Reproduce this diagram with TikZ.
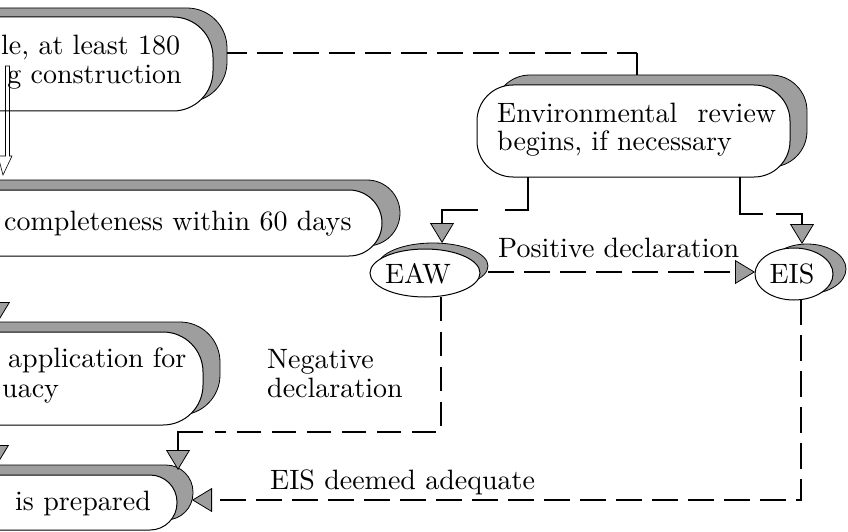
\documentclass[tikz,border=0pt]{standalone}
\usepackage{fontspec}
\setmainfont{lmroman10-regular.otf}
\usetikzlibrary{arrows.meta}
\definecolor{shade}{gray}{0.62}
\begin{document}
\begin{tikzpicture}[x=1pt,y=-1pt,
  font=\fontsize{28}{30}\selectfont,
  shadowbox/.style={fill=shade, draw=black, line width=0.8pt},
  frontbox/.style={fill=white, draw=black, line width=1pt},
  lbl/.style={inner sep=0pt, anchor=base west},
  conn/.style={line width=1.4pt},
  dashconn/.style={conn, dash pattern=on 26pt off 10pt},
  tip/.style={-{Triangle[width=24pt,length=20pt,fill=shade,line width=0.8pt]}},
]
\useasboundingbox (0,0) rectangle (848,532);
\clip (0,0) rectangle (848,532);

% ---------- boxes (left column, cut by the frame) ----------
\draw[shadowbox, rounded corners=40pt] (-80,8) rectangle (227,102);
\draw[frontbox, rounded corners=40pt] (-80,17) rectangle (213,111);
\node[lbl] (t1a) at (1,55) {le, at least 180};
\node[lbl, anchor=base east] (t1b) at (182,84) {g construction};

\draw[shadowbox, rounded corners=33pt] (-80,180) rectangle (400,246);
\draw[frontbox, rounded corners=33pt] (-80,190) rectangle (382,256);
\node[lbl] (t2) at (4,230) {completeness within 60 days};

\draw[shadowbox, rounded corners=40pt] (-80,322) rectangle (220,415);
\draw[frontbox, rounded corners=40pt] (-80,332) rectangle (203,425);
\node[lbl] (t3a) at (8,367) {application for};
\node[lbl] (t3b) at (2,397) {uacy};

\draw[shadowbox, rounded corners=27pt] (-80,465) rectangle (193,520);
\draw[frontbox, rounded corners=27pt] (-80,475) rectangle (177,530);
\node[lbl] (t4) at (15,510) {is prepared};

% ---------- environmental review ----------
\draw[shadowbox, rounded corners=36pt] (494,75) rectangle (807,167);
\draw[frontbox, rounded corners=36pt] (477,85) rectangle (790,177);
\node[lbl] (envA) at (497,122) {Environmental\hspace{0.72em}review};
\node[lbl] (envB) at (497,150) {begins, if necessary};

% ---------- EAW / EIS ----------
\draw[shadowbox] (433,266) ellipse [x radius=55pt, y radius=23pt];
\draw[frontbox] (425,273) ellipse [x radius=55pt, y radius=24pt];
\node[inner sep=0pt, anchor=base] (eaw) at (418,283) {EAW};

\draw[shadowbox] (807,269) ellipse [x radius=39pt, y radius=25pt];
\draw[frontbox] (794,274) ellipse [x radius=39pt, y radius=26pt];
\node[inner sep=0pt, anchor=base] (eis) at (792,283) {EIS};

% ---------- labels ----------
\node[lbl] (pos) at (498,257) {Positive declaration};
\node[lbl] (negA) at (267,368) {Negative};
\node[lbl] (negB) at (267,397) {declaration};
\node[lbl] (adq) at (270,489) {EIS deemed adequate};

% ---------- connector points ----------
\coordinate (b1e) at (227,53);
\coordinate (b1c) at (637,53);
\coordinate (envt) at (637,75);
\coordinate (envl) at (528,177);
\coordinate (envl1) at (528,210);
\coordinate (envl2) at (442,210);
\coordinate (eawt) at (442,243);
\coordinate (envr) at (740,177);
\coordinate (envr1) at (740,214);
\coordinate (envr2) at (802,214);
\coordinate (eist) at (802,244);
\coordinate (eawr) at (488,272);
\coordinate (eisl) at (755,272);
\coordinate (eawb) at (441,297);
\coordinate (n1) at (441,432);
\coordinate (n2) at (215,432);
\coordinate (n3) at (203,432);
\coordinate (n4) at (178,432);
\coordinate (b4t) at (178,470);
\coordinate (eisb) at (801,299);
\coordinate (a1) at (801,500);
\coordinate (b4r) at (192,500);

% ---------- connectors ----------
\draw[dashconn, dash phase=6pt] (b1e) -- (b1c);
\draw[conn] (b1c) -- (envt);
\draw[conn, tip, dash pattern=on 56pt off 27pt on 300pt] (envl) -- (envl1) -- (envl2) -- (eawt);
\draw[conn, tip, dash pattern=on 60pt off 13pt on 300pt] (envr) -- (envr1) -- (envr2) -- (eist);
\draw[dashconn, tip] (eawr) -- (eisl);
\draw[conn, dash pattern=on 24pt off 11pt] (eawb) -- (n1) -- (n2);
\draw[conn, tip] (n3) -- (n4) -- (b4t);
\draw[dashconn, tip] (eisb) -- (a1) -- (b4r);

% arrows entering from outside the frame
\coordinate (x3a) at (-2,280); \coordinate (x3b) at (-2,322);
\coordinate (x4a) at (-3,420); \coordinate (x4b) at (-3,465);
\draw[conn, tip] (x3a) -- (x3b);
\draw[conn, tip] (x4a) -- (x4b);

% hollow arrow from box 1 to box 2
\coordinate (h1) at (7.5,66); \coordinate (h2) at (3,175);
\draw[line width=0.6pt] (5.5,66) -- (9.5,66) -- (9.5,156) -- (12,156) -- (h2) -- (-2,156) -- (5.5,156) -- cycle;
\end{tikzpicture}
\end{document}
